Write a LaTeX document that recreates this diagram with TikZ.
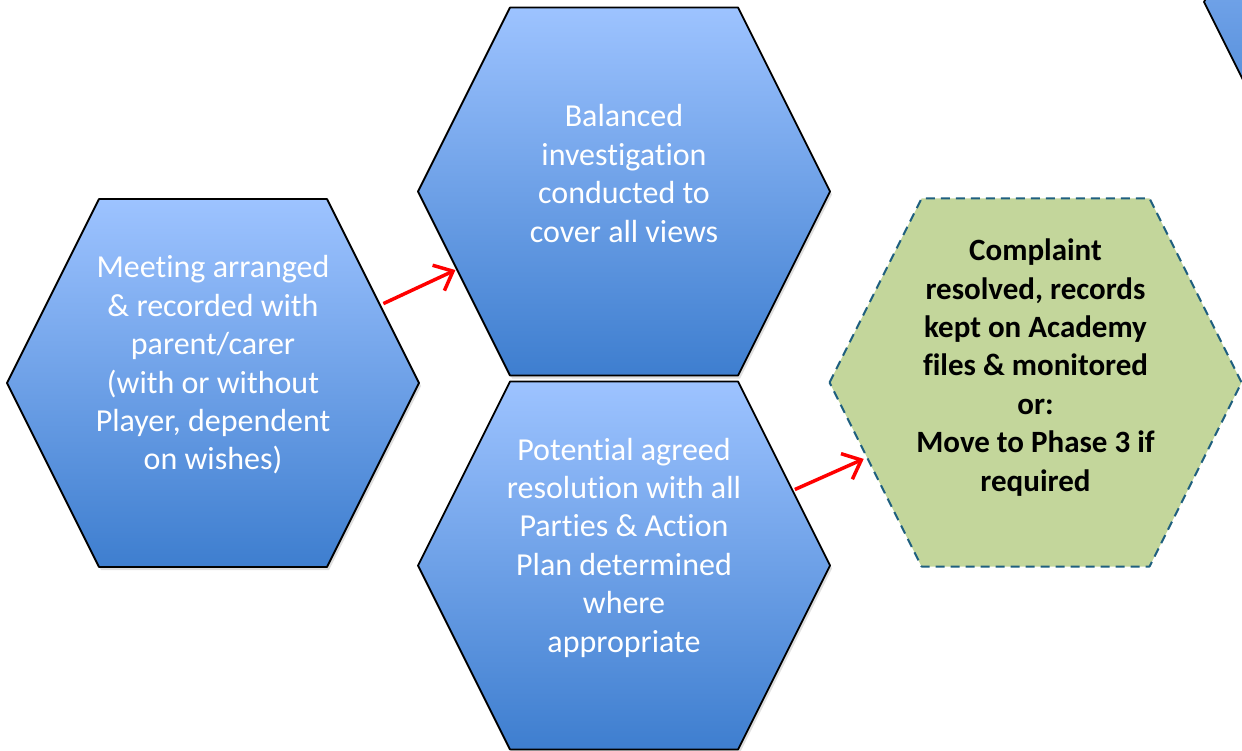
\documentclass[tikz,border=0pt]{standalone}
\usepackage{fontspec}
\setmainfont{Carlito}[Ligatures={NoCommon}]
\usetikzlibrary{arrows.meta,shadows}
\definecolor{hextop}{HTML}{9DC3FF}
\definecolor{hexbottom}{HTML}{3E7ECF}
\definecolor{outcomefill}{HTML}{C3D69B}
\definecolor{outcomeline}{HTML}{1F5F7F}
% hexagon drawn round a centre point
\newcommand{\hexat}[2][]{%
  \path[#1] (#2) +(-206,0) -- +(-114,-184) -- +(114,-184) -- +(206,0)
    -- +(114,184) -- +(-114,184) -- cycle;}
\begin{document}
\begin{tikzpicture}[x=1pt,y=-1pt,>=Stealth,
  blue hex/.style={draw=black,line width=1.8pt,line join=round,
    top color=hextop,bottom color=hexbottom,
    drop shadow={opacity=0.25,shadow xshift=2pt,shadow yshift=-3pt}},
  green hex/.style={draw=outcomeline,fill=outcomefill,line width=2pt,
    dash pattern=on 9pt off 6pt,line join=round},
  hex text/.style={align=center,yshift=18pt,
    font=\fontsize{32}{38.4}\selectfont},
  red arrow/.style={draw=red,line width=3.5pt,
    -{Straight Barb[length=16pt,width=28pt,line width=3.5pt]}}]

  \useasboundingbox (0,0) rectangle (1242,751);
  \clip (0,0) rectangle (1242,751);

  \coordinate (meet) at (213,383);
  \coordinate (invest) at (624,191.5);
  \coordinate (resolve) at (624,565.5);
  \coordinate (outcome) at (1035.5,382.5);
  \coordinate (next) at (1410,2);

  \hexat[blue hex]{next}
  \hexat[blue hex]{meet}
  \hexat[blue hex]{invest}
  \hexat[blue hex]{resolve}
  \hexat[green hex]{outcome}

  \node[hex text,text=white] (meet text) at (meet)
    {Meeting arranged\\ \& recorded with\\ parent/carer\\ (with or without\\
     Player, dependent\\ on wishes)};
  \node[hex text,text=white] (invest text) at (invest)
    {Balanced\\ investigation\\ conducted to\\ cover all views};
  \node[hex text,text=white] (resolve text) at (resolve)
    {Potential agreed\\ resolution with all\\ Parties \& Action\\
     Plan determined\\ where\\ appropriate};
  \node[hex text,yshift=-3pt,font=\fontsize{31}{38.4}\selectfont\bfseries] (outcome text) at (outcome)
    {Complaint\\ resolved, records\\ kept on Academy\\ files \& monitored\\ or:\\
     Move to Phase 3 if\\ required};

  \draw[red arrow,shorten <=188pt,shorten >=186pt] (meet) -- (invest);
  \draw[red arrow,shorten <=187pt,shorten >=188pt] (resolve) -- (outcome);
\end{tikzpicture}
\end{document}
